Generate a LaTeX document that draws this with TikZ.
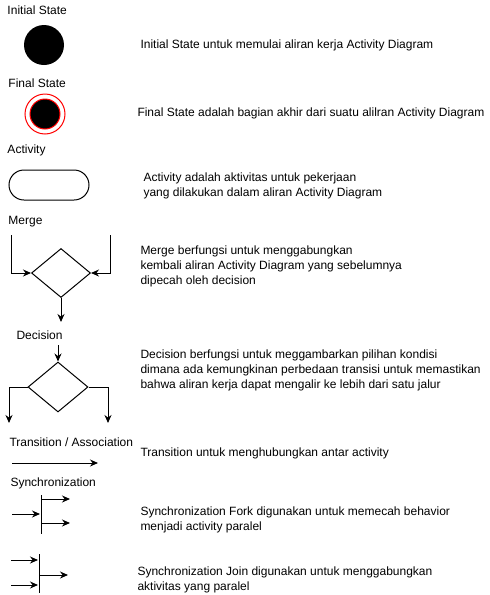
\documentclass[tikz,border=0pt]{standalone}
\usepackage{fontspec}
\setmainfont{Liberation Sans}
\usetikzlibrary{shapes.geometric,arrows.meta}
\begin{document}
\begin{tikzpicture}[x=1pt,y=-1pt,line width=1pt,font=\fontsize{12}{15}\selectfont,
  lbl/.style={anchor=west,inner sep=0pt},
  desc/.style={anchor=west,inner sep=0pt,align=left},
  flow/.style={-{Stealth[length=8pt,width=7pt]}},
  dmd/.style={draw,diamond,inner sep=0pt,minimum width=60pt,minimum height=50pt}]
\useasboundingbox (0,0) rectangle (490,595);
% initial state
\node[lbl] (tInit) at (7,10) {Initial State};
\node[circle,fill=black,minimum size=40pt,inner sep=0pt] (init) at (44,45) {};
\node[desc] (dInit) at (140,45) {Initial State untuk memulai aliran kerja Activity Diagram};
% final state
\node[lbl] (tFinal) at (8,83) {Final State};
\node[circle,draw=red,minimum size=40pt,inner sep=0pt] (final) at (45,114) {};
\node[circle,draw=red,fill=black,minimum size=30pt,inner sep=0pt] (finalIn) at (final) {};
\node[desc] (dFinal) at (137,113) {Final State adalah bagian akhir dari suatu alilran Activity Diagram};
% activity
\node[lbl] (tAct) at (7,150) {Activity};
\node[draw,rounded corners=15pt,minimum width=80pt,minimum height=30pt,inner sep=0pt] (act) at (49,185) {};
\node[desc] (dAct) at (143,185.5) {Activity adalah aktivitas untuk pekerjaan\\yang dilakukan dalam aliran Activity Diagram};
% merge
\node[lbl] (tMerge) at (8,222) {Merge};
\node[dmd,minimum width=59pt,minimum height=49pt] (merge) at (61,273) {};
\coordinate (mL) at (11,235);
\coordinate (mR) at (110,235);
\coordinate (mOut) at (61,322);
\draw[flow] (mL) |- (merge.west);
\draw[flow] (mR) |- (merge.east);
\draw[flow] (merge.south) -- (mOut);
\node[desc] (dMerge) at (140,266) {Merge berfungsi untuk menggabungkan\\kembali aliran Activity Diagram yang sebelumnya\\dipecah oleh decision};
% decision
\node[lbl] (tDec) at (16,335) {Decision};
\node[dmd] (dec) at (58,387) {};
\coordinate (dIn) at (58,345);
\coordinate (dL) at (9,423);
\coordinate (dR) at (108,423);
\draw[flow] (dIn) -- (dec.north);
\draw[flow] (dec.west) -| (dL);
\draw[flow] (dec.east) -| (dR);
\node[desc] (dDec) at (140,370) {Decision berfungsi untuk meggambarkan pilihan kondisi\\dimana ada kemungkinan perbedaan transisi untuk memastikan\\bahwa aliran kerja dapat mengalir ke lebih dari satu jalur};
% transition
\node[lbl] (tTrans) at (9,442) {Transition / Association};
\coordinate (trA) at (12,463);
\coordinate (trB) at (98,463);
\draw[flow] (trA) -- (trB);
\node[desc] (dTrans) at (140,453) {Transition untuk menghubungkan antar activity};
% synchronization
\node[lbl] (tSync) at (10,483) {Synchronization};
\node[fill=black,minimum width=1pt,minimum height=39pt,inner sep=0pt] (fork) at (41,514.5) {};
\coordinate (fIn) at (12,514);
\coordinate (fO1) at (70,499);
\coordinate (fO2) at (70,523);
\draw[flow] (fIn) -- (fIn -| fork.west);
\draw[flow] (fO1 -| fork.east) -- (fO1);
\draw[flow] (fO2 -| fork.east) -- (fO2);
\node[desc] (dFork) at (140,519.5) {Synchronization Fork digunakan untuk memecah behavior\\menjadi activity paralel};
\node[fill=black,minimum width=1pt,minimum height=39pt,inner sep=0pt] (join) at (39,573.5) {};
\coordinate (jI1) at (11,560);
\coordinate (jI2) at (11,585);
\coordinate (jOut) at (68,575);
\draw[flow] (jI1) -- (jI1 -| join.west);
\draw[flow] (jI2) -- (jI2 -| join.west);
\draw[flow] (jOut -| join.east) -- (jOut);
\node[desc] (dJoin) at (137,579.5) {Synchronization Join digunakan untuk menggabungkan\\aktivitas yang paralel};
\end{tikzpicture}
\end{document}
